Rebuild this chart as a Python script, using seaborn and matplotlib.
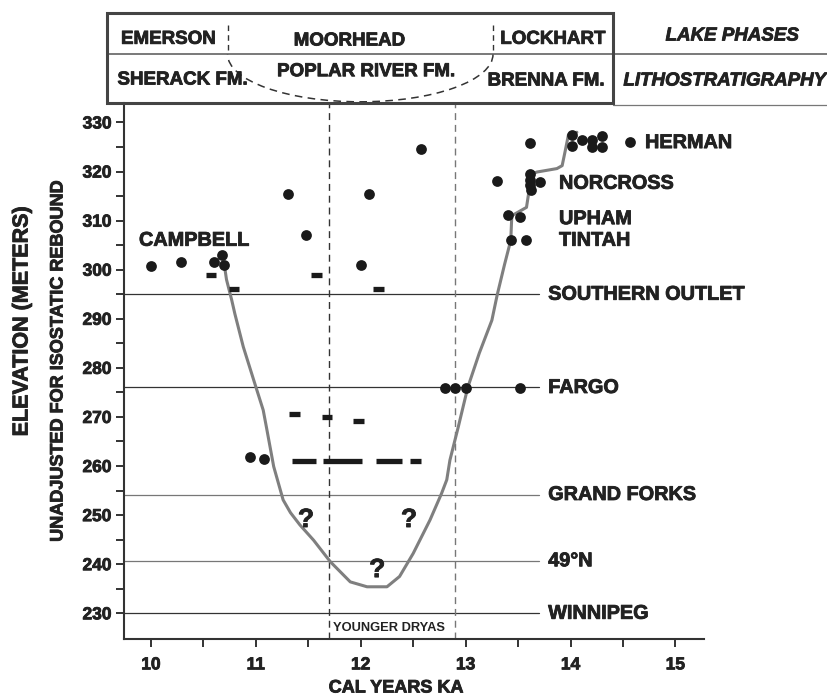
import numpy as np
import pandas as pd
import matplotlib
matplotlib.use("Agg")
import matplotlib.pyplot as plt
import matplotlib.patheffects as pe
from matplotlib.patches import Arc, Rectangle
import seaborn as sns

# dated sites: age (cal ka) and elevation (m)
dot_ka = [10.00, 10.29, 10.60, 10.68, 10.70, 11.31, 11.48, 12.00, 12.08, 12.57,
          10.94, 11.08,
          12.80, 12.90, 13.00, 13.52,
          13.43, 13.58, 13.40, 13.52,
          13.30, 13.61, 13.61, 13.61, 13.62, 13.71,
          13.61, 14.01, 14.01, 14.11, 14.20, 14.20, 14.30, 14.30, 14.57]
dot_elev = [300.8, 301.6, 301.5, 303.0, 300.9, 315.5, 307.0, 301.0, 315.4, 324.5,
            261.8, 261.5,
            275.8, 275.8, 275.8, 275.8,
            306.0, 306.0, 311.1, 310.7,
            318.0, 319.5, 318.3, 317.2, 316.2, 317.9,
            325.9, 327.4, 325.3, 326.5, 326.4, 324.9, 327.2, 325.0, 326.0]

# age ranges shown as bars
bar_start = [10.52, 10.74, 11.53, 12.12, 11.32, 11.63, 11.93, 11.34, 11.64, 12.15, 12.47]
bar_end = [10.62, 10.84, 11.63, 12.22, 11.42, 11.73, 12.03, 11.57, 12.01, 12.39, 12.57]
bar_elev = [299.0, 296.1, 299.0, 296.1, 270.6, 269.9, 269.2, 261.0, 261.0, 261.0, 261.0]

# lake level curve
curve_ka = [10.70, 10.72, 10.77, 10.80, 10.88, 10.99, 11.07, 11.10, 11.17, 11.26,
            11.33, 11.42, 11.55, 11.71, 11.90, 12.06, 12.25, 12.37, 12.50, 12.66,
            12.77, 12.82, 12.85, 12.93, 13.02, 13.13, 13.25, 13.30, 13.37, 13.43,
            13.44, 13.58, 13.60, 13.63, 13.68, 13.87, 13.92, 13.95, 13.98, 14.06]
curve_elev = [300.9, 298.0, 293.8, 291.0, 284.3, 276.8, 271.4, 268.0, 259.9, 253.1,
              250.5, 248.0, 244.9, 240.5, 236.4, 235.4, 235.4, 237.5, 242.2, 249.0,
              254.4, 257.2, 261.2, 268.0, 276.0, 283.0, 289.7, 294.8, 301.0, 306.0,
              311.0, 312.7, 315.5, 319.5, 319.9, 320.6, 321.2, 324.3, 327.5, 328.0]

# outlet / threshold levels
level_names = ["SOUTHERN OUTLET", "FARGO", "GRAND FORKS", "49°N", "WINNIPEG"]
level_elev = [295.0, 276.0, 254.2, 240.7, 230.0]
level_end = 13.70

site_names = ["CAMPBELL", "HERMAN", "NORCROSS", "UPHAM", "TINTAH"]
site_ka = [9.886, 14.71, 13.89, 13.89, 13.89]
site_elev = [306.0, 325.9, 317.6, 310.4, 306.0]

qmark_ka = [11.478, 12.46, 12.157]
qmark_elev = [249.0, 249.0, 238.8]

yd_start, yd_end = 11.70, 12.90

# header: phase boundaries (cal ka)
phase_bounds = [10.73, 13.26]
lake_phases = ["EMERSON", "MOORHEAD", "LOCKHART"]
lake_phase_ka = [10.165, 11.89, 13.83]
formations = ["SHERACK FM.", "POPLAR RIVER FM.", "BRENNA FM."]
formation_ka = [10.30, 12.05, 13.765]

sns.set_theme(style="ticks")
plt.rcParams["font.family"] = ["Liberation Sans", "DejaVu Sans"]
plt.rcParams["font.weight"] = "bold"

dark = "#222222"
heavy = [pe.withStroke(linewidth=0.6, foreground=dark)]

fig = plt.figure(figsize=(8.27, 6.98), dpi=100)
ax = fig.add_axes([124 / 827, 1 - 639.3 / 698, (704.3 - 124) / 827, (639.3 - 103.3) / 698])

# reference levels
for name, y in zip(level_names, level_elev):
    col = "#777777" if name in ("GRAND FORKS", "49°N") else "#333333"
    ax.plot([9.743, level_end], [y, y], color=col, lw=0.9, zorder=1)
    ax.text(13.787, y, name, ha="left", va="center", fontsize=14.3,
            fontweight="bold", color=dark, path_effects=heavy)

# younger dryas
ax.axvline(yd_start, color="#333333", lw=1.0, ls=(0, (5, 3.5)), zorder=1)
ax.axvline(yd_end, color="#777777", lw=1.0, ls=(0, (5, 3.5)), zorder=1)
ax.text(yd_start + 0.035, 227.1, "YOUNGER DRYAS", ha="left", va="center",
        fontsize=9.3, fontweight="bold", color=dark)

sns.lineplot(x=curve_ka, y=curve_elev, sort=False, estimator=None, color="#7f7f7f",
             lw=2.2, ax=ax, zorder=2, solid_joinstyle="round")
ax.hlines(bar_elev, bar_start, bar_end, color="#1a1a1a", lw=3.8, zorder=3)
sns.scatterplot(x=dot_ka, y=dot_elev, s=60, color="#1a1a1a", linewidth=0, ax=ax, zorder=4)

for name, x, y in zip(site_names, site_ka, site_elev):
    ax.text(x, y, name, ha="left", va="center", fontsize=14.3, fontweight="bold",
            color=dark, path_effects=heavy)
for x, y in zip(qmark_ka, qmark_elev):
    ax.text(x, y, "?", ha="center", va="center", fontsize=19, fontweight="bold",
            color=dark, path_effects=heavy)

ax.set_xlim(9.743, 15.275)
ax.set_ylim(224.7, 333.9)
ax.set_xticks(range(10, 16))
ax.set_xticks(np.arange(10.5, 15, 1.0), minor=True)
ax.set_yticks(range(230, 331, 10))
ax.set_yticks(range(235, 330, 10), minor=True)
ax.tick_params(which="both", direction="out", length=6, width=1.4, color="#333333")
ax.tick_params(axis="x", pad=7, labelsize=12.5, labelcolor=dark)
ax.tick_params(axis="y", pad=3, labelsize=12.5, labelcolor=dark)
for lab in ax.get_xticklabels() + ax.get_yticklabels():
    lab.set_fontweight("bold")
    lab.set_path_effects(heavy)
sns.despine(ax=ax)
for sp in ("left", "bottom"):
    ax.spines[sp].set_linewidth(1.5)
    ax.spines[sp].set_color("#333333")
ax.set_xlabel("")
ax.set_ylabel("")

fig.text(396 / 827, 1 - 688 / 698, "CAL YEARS KA", ha="center", va="center",
         fontsize=13, fontweight="bold", color=dark, path_effects=heavy)
fig.text(22 / 827, 1 - 322 / 698, "ELEVATION (METERS)", rotation=90, ha="center",
         va="center", fontsize=15.5, fontweight="bold", color=dark, path_effects=heavy)
fig.text(58 / 827, 1 - 361 / 698, "UNADJUSTED FOR ISOSTATIC REBOUND", rotation=90,
         ha="center", va="center", fontsize=13, fontweight="bold", color=dark,
         path_effects=heavy)

# header table
hx = fig.add_axes([0, 1 - 107 / 698, 1, 107 / 698])
hx.set_xlim(8.5605, 16.444)
hx.set_ylim(107, 0)
hx.axis("off")
box_l, box_r = 9.578, 14.407
hx.plot([box_l, 16.444], [54.3, 54.3], color="#555555", lw=1.1)
hx.plot([box_r, 16.444], [105, 105], color="#777777", lw=0.9)
hx.add_patch(Rectangle((box_l, 13.3), box_r - box_l, 90.0, fill=False, lw=2.2,
                       ec="#444444", zorder=5))
for b in phase_bounds:
    hx.plot([b, b], [25, 54.3], color="#333333", lw=1.0, ls=(0, (4, 3)))
hx.add_patch(Arc(((phase_bounds[0] + phase_bounds[1]) / 2, 54.3),
                 phase_bounds[1] - phase_bounds[0], 95.0, theta1=0, theta2=180,
                 lw=1.1, ls=(0, (5, 3.5)), color="#333333"))
for name, x, y in zip(lake_phases, lake_phase_ka, [39.3, 41, 39.3]):
    hx.text(x, y, name, ha="center", va="center", fontsize=13.5, fontweight="bold",
            color=dark, path_effects=heavy)
for name, x, y in zip(formations, formation_ka, [80, 71.7, 81]):
    hx.text(x, y, name, ha="center", va="center", fontsize=13.5, fontweight="bold",
            color=dark, path_effects=heavy)
hx.text(15.54, 36, "LAKE PHASES", ha="center", va="center", fontsize=13.5,
        fontweight="bold", style="italic", color=dark, path_effects=heavy)
hx.text(15.47, 81, "LITHOSTRATIGRAPHY", ha="center", va="center", fontsize=13.5,
        fontweight="bold", style="italic", color=dark, path_effects=heavy)

fig.savefig("out.png", dpi=100)
